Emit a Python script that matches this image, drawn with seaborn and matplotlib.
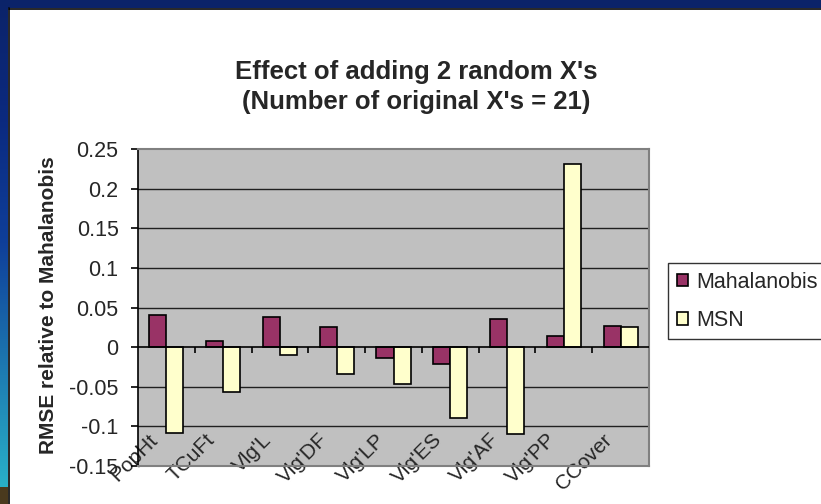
import numpy as np
import pandas as pd
import matplotlib
matplotlib.use("Agg")
import matplotlib.pyplot as plt
import seaborn as sns
from matplotlib.transforms import ScaledTranslation
from matplotlib.patches import Rectangle, Patch
from matplotlib.colors import LinearSegmentedColormap

# ---- data ----
categories = ["PopHt", "TCuFt", "Vlg'L", "Vlg'DF", "Vlg'LP", "Vlg'ES", "Vlg'AF", "Vlg'PP", "CCover"]
mahalanobis = [0.041, 0.008, 0.038, 0.025, -0.014, -0.021, 0.036, 0.014, 0.027]
msn = [-0.108, -0.056, -0.010, -0.034, -0.047, -0.090, -0.110, 0.231, 0.025]
series_names = ["Mahalanobis", "MSN"]
yticks = [-0.15, -0.1, -0.05, 0, 0.05, 0.1, 0.15, 0.2, 0.25]
ytick_labels = ["-0.15", "-0.1", "-0.05", "0", "0.05", "0.1", "0.15", "0.2", "0.25"]

df = pd.DataFrame({
    "category": categories * 2,
    "series": [series_names[0]] * len(categories) + [series_names[1]] * len(categories),
    "value": mahalanobis + msn,
})

colors = {"Mahalanobis": "#993366", "MSN": "#FFFFCC"}

sns.set_style("white")
plt.rcParams["font.family"] = ["Liberation Sans", "DejaVu Sans"]

fig = plt.figure(figsize=(8.21, 5.04), dpi=100)
fig.patch.set_facecolor("white")

# slide border (top navy band, left gradient band)
fig.add_artist(Rectangle((0, 1 - 8 / 504), 1, 8 / 504, transform=fig.transFigure,
                         facecolor="#0b2369", edgecolor="none", zorder=0))
grad = np.linspace(0, 1, 256).reshape(-1, 1)
cmap = LinearSegmentedColormap.from_list("slide", ["#0b2369", "#0b2a80", "#0f3f9a", "#1d78b0", "#29b0c8"])
gax = fig.add_axes([0, 17 / 504, 8 / 821, 1 - 17 / 504])
gax.imshow(grad, aspect="auto", cmap=cmap)
gax.axis("off")
fig.add_artist(Rectangle((0, 0), 8 / 821, 17 / 504, transform=fig.transFigure,
                         facecolor="#4a3a1e", edgecolor="none", zorder=1))
fig.add_artist(plt.Line2D([8.5 / 821, 8.5 / 821], [0, 1 - 8 / 504], transform=fig.transFigure,
                          color="black", lw=1.2))
fig.add_artist(plt.Line2D([8.5 / 821, 1], [1 - 8.5 / 504, 1 - 8.5 / 504], transform=fig.transFigure,
                          color="black", lw=1.2))

ax = fig.add_axes([138 / 821, 1 - 466 / 504, 511 / 821, 317 / 504])
ax.set_facecolor("#C0C0C0")

sns.barplot(data=df, x="category", y="value", hue="series", palette=colors,
            width=0.6, edgecolor="black", linewidth=1.2, ax=ax, legend=False,
            zorder=3, saturation=1)

ax.set_ylim(-0.15, 0.25)
ax.set_xlim(-0.5, len(categories) - 0.5)
ax.set_yticks(yticks)
ax.set_yticklabels(ytick_labels, fontsize=15.5)
for yv in [-0.1, -0.05, 0.05, 0.1, 0.15, 0.2]:
    ax.axhline(yv, color="#202020", lw=1.0, zorder=1)
ax.axhline(0, color="black", lw=1.2, zorder=4)
ax.vlines(np.arange(1, len(categories)) - 0.5, -0.0075, 0, color="black", lw=1.2, zorder=4)

for side in ["top", "right", "bottom"]:
    ax.spines[side].set_color("#808080")
    ax.spines[side].set_linewidth(1.5)
ax.spines["left"].set_color("black")
ax.spines["left"].set_linewidth(1.2)
ax.tick_params(axis="y", length=5, width=1.2, color="black", direction="out", pad=9, left=True)
ax.tick_params(axis="x", length=0, pad=0)

ax.set_xticks(range(len(categories)))
ax.set_xticklabels(categories, rotation=45, ha="right", va="top", rotation_mode="anchor", fontsize=15)
offset = ScaledTranslation(-18 / 100, 36 / 100, fig.dpi_scale_trans)
for lab in ax.get_xticklabels():
    lab.set_transform(lab.get_transform() + offset)

ax.set_xlabel("")
ax.set_ylabel("RMSE relative to Mahalanobis", fontsize=15, fontweight="bold")
ax.yaxis.label.set_va("center")
ax.yaxis.set_label_coords(-(138 - 49) / 511, 0.5 - (305 - 307.5) / 317)

fig.text(416 / 821, 1 - 72 / 504, "Effect of adding 2 random X's", ha="center", va="center",
         fontsize=18.5, fontweight="bold")
fig.text(416 / 821, 1 - 102 / 504, "(Number of original X's = 21)", ha="center", va="center",
         fontsize=18.5, fontweight="bold")

handles = [Patch(facecolor=colors[s], edgecolor="black", linewidth=1.2, label=s) for s in series_names]
leg = fig.legend(handles=handles, loc="upper left", bbox_to_anchor=(668 / 821, 1 - 263 / 504),
                 fontsize=15.5, frameon=True, fancybox=False, handlelength=0.55, handleheight=0.55,
                 handletextpad=0.35, borderpad=0.4, labelspacing=0.8, borderaxespad=0)
leg.get_frame().set_edgecolor("black")
leg.get_frame().set_linewidth(1.0)

fig.savefig("out.png", dpi=100)
